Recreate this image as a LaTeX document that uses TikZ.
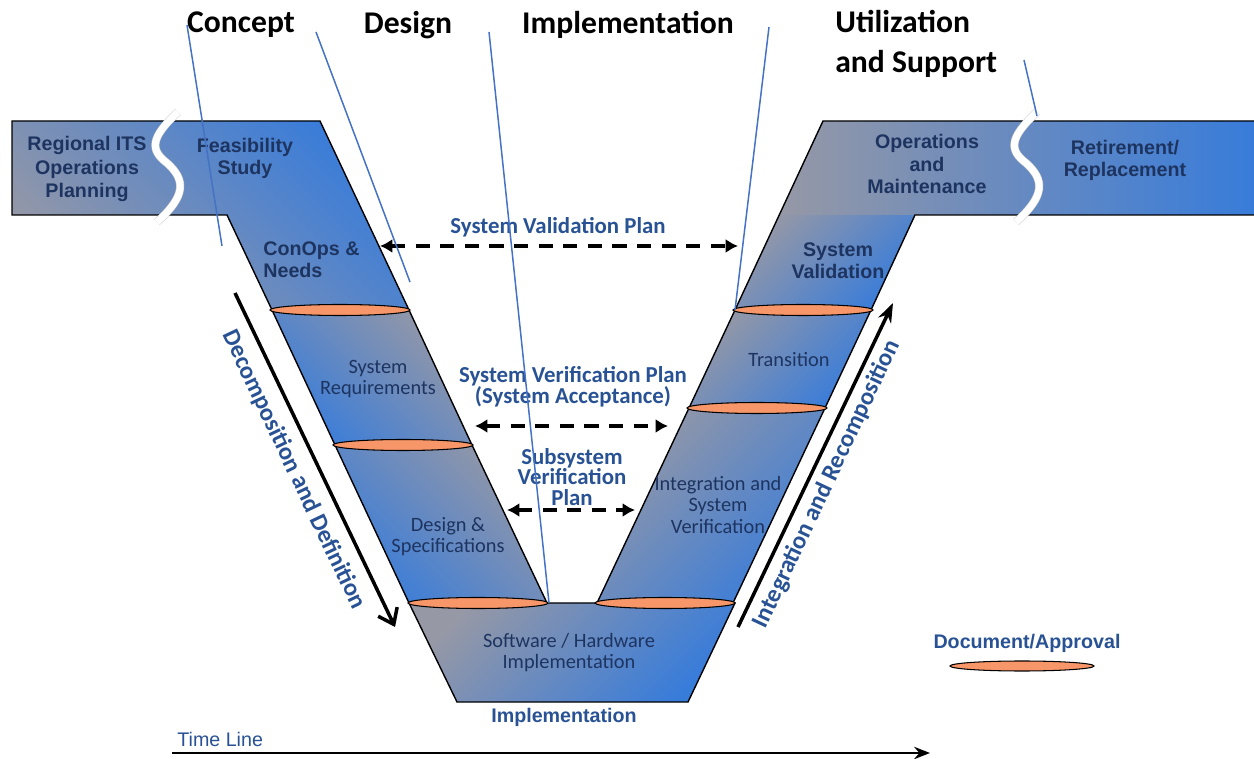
\documentclass[tikz,border=0pt]{standalone}
\usepackage{fontspec}
\setmainfont{Carlito}
\newfontfamily\arialfont{Liberation Sans}
\usepackage{xcolor}
\usepackage{tikz}
\usetikzlibrary{arrows.meta}
\definecolor{vgray}{RGB}{150,152,166}
\definecolor{vblue}{RGB}{56,124,218}
\definecolor{vnavy}{RGB}{30,52,96}
\definecolor{planblue}{RGB}{40,82,148}
\definecolor{docorange}{RGB}{247,150,104}
\definecolor{phaseblue}{RGB}{68,114,196}
\tikzset{
    seg/.style={
        top color=vgray,
        bottom color=vblue,
        draw=black,
        line width=0.8pt
    },
    docmark/.style={
        draw=black,
        fill=docorange,
        line width=0.6pt
    },
    wave/.style={
        draw=black!20,
        line width=0.3pt,
        double=white,
        double distance=4pt
    },
    phasetext/.style={
        text=black,
        inner sep=0pt,
        font=\bfseries\fontsize{18}{22.8}\selectfont
    },
    segtext/.style={
        text=vnavy,
        align=center,
        inner sep=0pt,
        font=\arialfont\bfseries\fontsize{11.2}{12.6}\selectfont
    },
    steptext/.style={
        text=vnavy,
        align=center,
        inner sep=0pt,
        font=\fontsize{11.6}{12}\selectfont
    },
    plantext/.style={
        text=planblue,
        align=center,
        inner sep=0pt,
        font=\bfseries\fontsize{13}{11.8}\selectfont
    },
    flowtext/.style={
        text=planblue,
        inner sep=0pt,
        font=\bfseries\fontsize{14}{16}\selectfont
    },
    planarrow/.style={
        {Latex[length=7pt,width=8pt]}-{Latex[length=7pt,width=8pt]},
        dash pattern=on 8pt off 6pt,
        line width=2pt
    },
    phaseline/.style={
        draw=phaseblue,
        line width=0.85pt
    }
}

\begin{document}
\begin{tikzpicture}[x=0.02cm, y=-0.02cm]
    \useasboundingbox (0,0) rectangle (1254,759);

    % Left branch: planning, feasibility, ConOps
    \shade[seg, shading angle=135] (12,121) -- (320,121) -- (409,310) -- (272,310) -- (227,215) -- (12,215) -- cycle;
    \shade[seg, shading angle=-45] (272,310) -- (409,310) -- (472,445) -- (335,445) -- cycle;
    \shade[seg, shading angle=-45] (335,445) -- (472,445) -- (547,603) -- (409,603) -- cycle;

    % Bottom
    \shade[seg, shading angle=45] (409,603) -- (735,603) -- (688,702) -- (457,702) -- cycle;

    % Right branch
    \shade[seg, shading angle=45] (597,603) -- (733,603) -- (825,408) -- (689,408) -- cycle;
    \shade[seg, shading angle=45] (689,408) -- (825,408) -- (871,310) -- (735,310) -- cycle;
    \shade[seg, draw=none, shading angle=45] (779,215) -- (915,215) -- (871,310) -- (735,310) -- cycle;
    \shade[seg, draw=none, shading angle=90] (823,121) -- (1254,121) -- (1254,215) -- (779,215) -- cycle;
    \draw[line width=0.8pt] (735,310) -- (823,121) -- (1254,121) (1254,215) -- (915,215) -- (871,310);

    % Breaks
    \draw[wave] (178,112) .. controls (150,138) and (150,150) .. (167,163) .. controls (186,180) and (186,196) .. (157,222);
    \draw[wave] (1037,112) .. controls (1009,138) and (1009,150) .. (1026,163) .. controls (1045,180) and (1045,196) .. (1016,222);

    % Documents / approvals
    \draw[docmark] (340,310) ellipse [x radius=70, y radius=5.5];
    \draw[docmark] (403,445) ellipse [x radius=70, y radius=5.5];
    \draw[docmark] (478,603) ellipse [x radius=70, y radius=5.5];
    \draw[docmark] (665,603) ellipse [x radius=70, y radius=5.5];
    \draw[docmark] (757,408) ellipse [x radius=70, y radius=5.5];
    \draw[docmark] (803,310) ellipse [x radius=70, y radius=5.5];
    \draw[docmark] (1022,666) ellipse [x radius=72, y radius=5];

    % Stage texts
    \node (regional) [segtext, font=\arialfont\bfseries\fontsize{11.2}{13.4}\selectfont] at (87,169) {Regional ITS\\Operations\\Planning};
    \node (feasib) [segtext] at (245,158) {Feasibility\\Study};
    \node (conops) [segtext, align=left, anchor=west] at (263,260) {ConOps \&\\Needs};
    \node (sysreq) [steptext] at (378,379) {System\\Requirements};
    \node (design) [steptext] at (448,537) {Design \&\\Specifications};
    \node (swhw) [steptext] at (569,653) {Software / Hardware\\Implementation};
    \node (integ) [steptext] at (718,505) {Integration and\\System\\Verification};
    \node (trans) [steptext] at (789,360) {Transition};
    \node (sysval) [segtext] at (838,261) {System\\Validation};
    \node (ops) [segtext] at (927,164) {Operations\\and\\Maintenance};
    \node (retire) [segtext] at (1125,160) {Retirement/\\Replacement};

    % Plans
    \node (valplan) [plantext] at (558,227) {System Validation Plan};
    \node (verplan) [plantext] at (573,387) {System Verification Plan\\(System Acceptance)};
    \node (subplan) [plantext] at (572,477) {Subsystem\\Verification\\Plan};

    \coordinate (valL) at (380,246);
    \coordinate (valR) at (738,246);
    \coordinate (verL) at (475,426);
    \coordinate (verR) at (668,426);
    \coordinate (subL) at (507,510);
    \coordinate (subR) at (635,510);
    \draw[planarrow] (valL) -- (valR);
    \draw[planarrow] (verL) -- (verR);
    \draw[planarrow] (subL) -- (subR);

    % Decomposition / recomposition
    \coordinate (decompS) at (235,293);
    \coordinate (decompE) at (395,627);
    \coordinate (recompS) at (738,627);
    \coordinate (recompE) at (893,303);
    \draw[line width=2pt, -{Straight Barb[length=8pt,width=12pt]}] (decompS) -- (decompE);
    \draw[line width=2pt, -{Stealth[length=11pt,width=8pt]}] (recompS) -- (recompE);
    \node (decomp) [flowtext, rotate=-64.6] at (294,470) {Decomposition and Definition};
    \node (recomp) [flowtext, rotate=64.8] at (827,484) {Integration and Recomposition};

    % Bottom labels and time line
    \node (impl) [text=planblue, inner sep=0pt, font=\arialfont\bfseries\fontsize{11.2}{13}\selectfont] at (564,717) {Implementation};
    \node (timeline) [text=planblue, inner sep=0pt, anchor=west, font=\arialfont\fontsize{11.2}{13}\selectfont] at (177,739) {Time Line};
    \coordinate (timeS) at (172,753);
    \coordinate (timeE) at (930,753);
    \draw[line width=1.4pt, -{Stealth[length=9pt,width=7pt]}] (timeS) -- (timeE);

    % Legend
    \node (docapp) [text=planblue, inner sep=0pt, font=\arialfont\bfseries\fontsize{11.2}{13}\selectfont] at (1027,643) {Document/Approval};

    % Phases
    \node (concept) [phasetext] at (241,25) {Concept};
    \node (designph) [phasetext] at (408,25) {Design};
    \node (implph) [phasetext] at (628,25) {Implementation};
    \node (utilph) [phasetext, align=left, anchor=west] at (835,44) {Utilization\\and Support};

    \coordinate (p1a) at (187,25);
    \coordinate (p1b) at (222,246);
    \coordinate (p2a) at (316,32);
    \coordinate (p2b) at (410,282);
    \coordinate (p3a) at (489,32);
    \coordinate (p3b) at (549,603);
    \coordinate (p4a) at (769,27);
    \coordinate (p4b) at (735,310);
    \coordinate (p5a) at (1024,60);
    \coordinate (p5b) at (1037,116);
    \draw[phaseline] (p1a) -- (p1b);
    \draw[phaseline] (p2a) -- (p2b);
    \draw[phaseline] (p3a) -- (p3b);
    \draw[phaseline] (p4a) -- (p4b);
    \draw[phaseline] (p5a) -- (p5b);

\end{tikzpicture}
\end{document}
